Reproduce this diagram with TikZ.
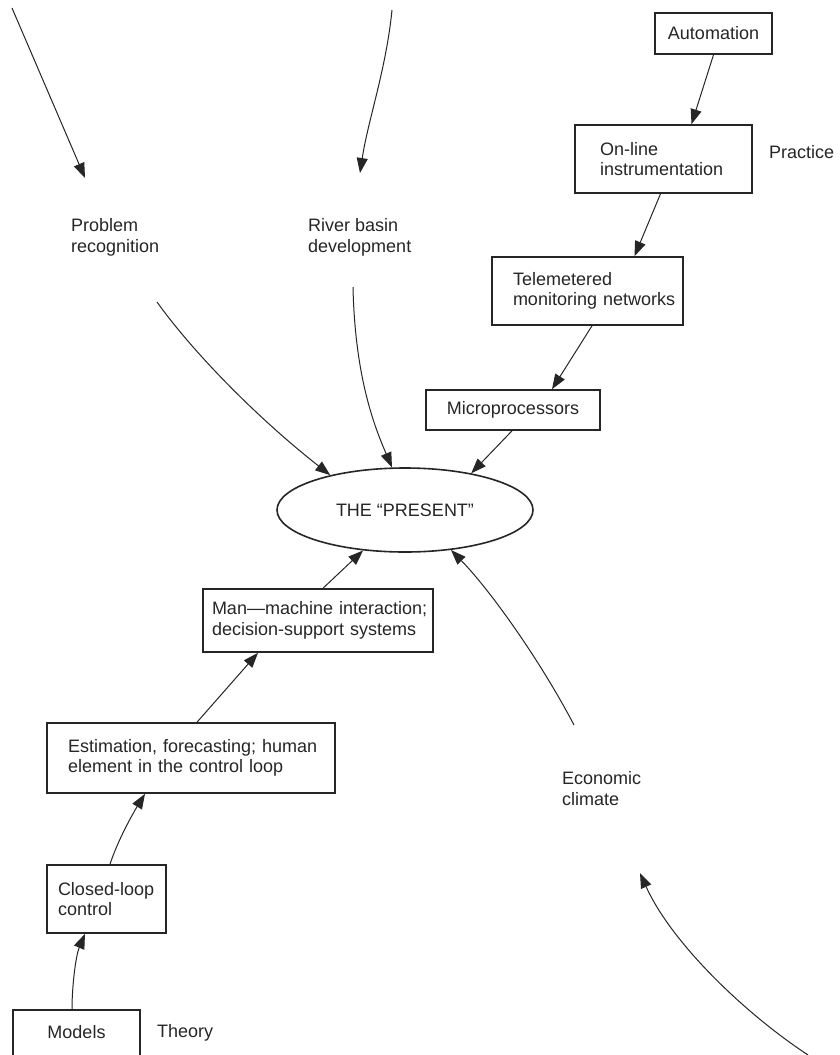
\documentclass[tikz,border=0pt]{standalone}
\usepackage{fontspec}
\setmainfont{Liberation Sans}
\usetikzlibrary{arrows.meta,shapes.geometric}
\newcommand\diagfont{\fontsize{18}{20.5}\selectfont}
\hyphenpenalty=10000
\exhyphenpenalty=10000
\hbadness=10000
\hfuzz=40pt
\begin{document}
\begin{tikzpicture}[x=1pt,y=-1pt,
  every node/.style={font=\diagfont, text=black!85},
  box/.style={draw=black!85, line width=1.6pt, rectangle, inner ysep=0pt, align=left,
    execute at begin node={\hyphenpenalty=10000\exhyphenpenalty=10000}},
  cbox/.style={draw=black!85, line width=1.6pt, rectangle, inner sep=0pt, align=center},
  lbl/.style={anchor=west, inner sep=0pt, align=left},
  arr/.style={draw=black!85, line width=1pt, -{Triangle[length=15pt,width=11pt]}}
]
% page
\fill[white] (0,0) rectangle (840,1055);
\useasboundingbox (0,0) rectangle (840,1055);

% practice column
\node[cbox, minimum width=117pt, minimum height=41pt] (auto) at (713.5,33.5) {Automation};
\node[box, minimum width=177pt, minimum height=68pt, inner xsep=25pt, text width=127pt] (online) at (663.5,159) {On-line\\instrumentation};
\node[box, minimum width=191pt, minimum height=68pt, inner xsep=21pt, text width=149pt] (tele) at (587.5,291) {Telemetered\\monitoring~networks};
\node[cbox, minimum width=174pt, minimum height=40pt] (micro) at (513,410) {Microprocessors};
\node[lbl] (practice) at (769,152) {Practice};

% centre
\node[draw=black!85, line width=1.6pt, ellipse, inner sep=0pt, minimum width=256pt, minimum height=84pt] (present) at (405,510) {THE “PRESENT”};

% theory column
\node[box, minimum width=230pt, minimum height=63pt, inner xsep=9pt, text width=212pt] (mm) at (318,620.5) {Man—machine~interaction;\\decision-support~systems};
\node[box, minimum width=288pt, minimum height=70pt, inner xsep=21pt, text width=246pt] (est) at (191,758) {Estimation,~forecasting;~human\\element~in~the~control~loop};
\node[box, minimum width=119pt, minimum height=68pt, inner xsep=11pt, text width=97pt] (closed) at (106.5,899) {Closed-loop\\control};
\node[cbox, minimum width=127pt, minimum height=60pt] (models) at (76.5,1040) {\raisebox{16pt}{Models}};
\node[lbl] (theory) at (157,1033) {Theory};

% other influences
\node[lbl] (prob) at (71,237.5) {Problem\\recognition};
\node[lbl] (river) at (308,237.5) {River basin\\development};
\node[lbl] (econ) at (562,788.5) {Economic\\climate};

% free ends of the open arrows
\coordinate (tl0) at (12,8);
\coordinate (tl1) at (85,178);
\coordinate (tm0) at (392,10);
\coordinate (tm1) at (360,173);
\coordinate (pr0) at (157,302);
\coordinate (rb0) at (353,287);
\coordinate (ec0) at (574,725);
\coordinate (br0) at (808,1055);
\coordinate (br1) at (640,873);

% arrows towards the labels
\draw[arr] (tl0) -- (tl1);
\draw[arr] (tm0) .. controls (386,70) and (368,120) .. (tm1);
\draw[arr] (br0) .. controls (740,1010) and (670,940) .. (br1);

% practice chain
\draw[arr] (auto.south) -- ([xshift=28pt]online.north);
\draw[arr] ([xshift=-3pt]online.south) -- ([xshift=47pt]tele.north);
\draw[arr] ([xshift=4.5pt]tele.south) -- ([xshift=39pt]micro.north);
\draw[arr] ([xshift=-1pt]micro.south) -- (present.29);

% influences into the present
\draw[arr] (pr0) .. controls (195,355) and (260,420) .. (present.155);
\draw[arr] (rb0) .. controls (355,380) and (376,430) .. (present.107);
\draw[arr] (ec0) .. controls (540,660) and (490,590) .. (present.-41);

% theory chain
\draw[arr] ([xshift=5pt]mm.north) -- (present.-136);
\draw[arr] ([xshift=6pt]est.north) -- ([xshift=-60pt]mm.south);
\draw[arr] ([xshift=3.5pt]closed.north) .. controls (118,840) and (132,815) .. ([xshift=-46pt]est.south);
\draw[arr] ([xshift=-4.5pt]models.north) .. controls (72,985) and (76,955) .. ([xshift=-21.5pt]closed.south);
\end{tikzpicture}
\end{document}
